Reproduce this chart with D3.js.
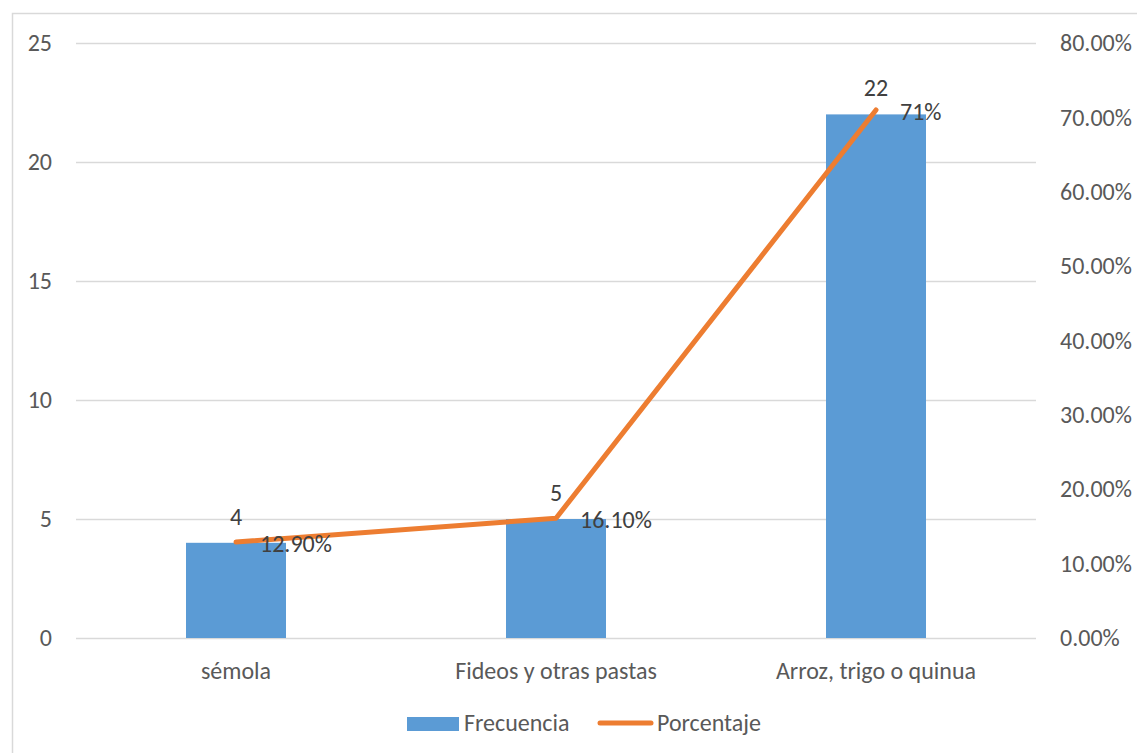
<!DOCTYPE html>
<html>
<head>
<meta charset="utf-8">
<script src="https://cdn.jsdelivr.net/npm/d3@7"></script>
<style>
  html, body { margin: 0; padding: 0; background: #fff; }
  svg { display: block; }
  text { font-family: Calibri, Carlito, "Liberation Sans", Arial, sans-serif; }
</style>
</head>
<body>
<svg id="chart" width="1137" height="753"></svg>
<script>
const categories = ["sémola", "Fideos y otras pastas", "Arroz, trigo o quinua"];
const frecuencia = [4, 5, 22];
const porcentaje = [0.129, 0.161, 0.71];
const porcentajeLabels = ["12.90%", "16.10%", "71%"];
const leftTicks = [0, 5, 10, 15, 20, 25];
const rightTicks = [0, 0.1, 0.2, 0.3, 0.4, 0.5, 0.6, 0.7, 0.8];
const seriesNames = ["Frecuencia", "Porcentaje"];

const W = 1137, H = 753;
const plot = { left: 76, right: 1036, top: 43, bottom: 638 };
const fontSize = 24;
const FF = 'Calibri, Carlito, "Liberation Sans", Arial, sans-serif';
const barColor = "#5B9BD5", lineColor = "#ED7D31";
const axisColor = "#595959", labelColor = "#404040", gridColor = "#D9D9D9";

const svg = d3.select("#chart");

svg.append("rect")
  .attr("x", 12.5).attr("y", 13.5)
  .attr("width", 1200).attr("height", 800)
  .attr("fill", "#fff").attr("stroke", gridColor).attr("stroke-width", 1.5);

const x = d3.scaleBand().domain(categories)
  .range([plot.left, plot.right])
  .paddingInner(0.6875).paddingOuter(0.34375);
const yL = d3.scaleLinear().domain([0, 25]).range([plot.bottom, plot.top]);
const yR = d3.scaleLinear().domain([0, 0.8]).range([plot.bottom, plot.top]);

// gridlines
const grid = svg.append("g")
  .attr("transform", `translate(${plot.left},0)`)
  .call(d3.axisLeft(yL).tickValues(leftTicks).tickSize(-(plot.right - plot.left)).tickFormat(""));
grid.select(".domain").remove();
grid.selectAll("line").attr("stroke", gridColor).attr("stroke-width", 1.5);

// left axis labels
const gL = svg.append("g")
  .attr("transform", `translate(${plot.left},0)`)
  .call(d3.axisLeft(yL).tickValues(leftTicks).tickSize(0).tickPadding(24).tickFormat(d3.format("d")));
gL.select(".domain").remove();
gL.selectAll("text").attr("fill", axisColor).style("font-size", fontSize + "px").style("font-family", FF);

// right axis labels
const gR = svg.append("g")
  .attr("transform", `translate(${plot.right},0)`)
  .call(d3.axisRight(yR).tickValues(rightTicks).tickSize(0).tickPadding(24).tickFormat(d3.format(".2%")));
gR.select(".domain").remove();
gR.selectAll("text").attr("fill", axisColor).style("font-size", fontSize + "px").style("font-family", FF);

// bottom axis labels
const gB = svg.append("g")
  .attr("transform", `translate(0,${plot.bottom})`)
  .call(d3.axisBottom(x).tickSize(0).tickPadding(24));
gB.select(".domain").remove();
gB.selectAll("text").attr("fill", axisColor).style("font-size", fontSize + "px").style("font-family", FF);

// bars
svg.append("g").selectAll("rect")
  .data(categories)
  .join("rect")
  .attr("x", d => x(d))
  .attr("y", (d, i) => yL(frecuencia[i]))
  .attr("width", x.bandwidth())
  .attr("height", (d, i) => yL(0) - yL(frecuencia[i]))
  .attr("fill", barColor);

// line
const cx = d => x(d) + x.bandwidth() / 2;
const line = d3.line()
  .x((d, i) => cx(categories[i]))
  .y(d => yR(d));
svg.append("path")
  .datum(porcentaje)
  .attr("d", line)
  .attr("fill", "none")
  .attr("stroke", lineColor)
  .attr("stroke-width", 5)
  .attr("stroke-linecap", "round")
  .attr("stroke-linejoin", "round");

// bar labels
svg.append("g").selectAll("text")
  .data(categories)
  .join("text")
  .attr("x", d => cx(d))
  .attr("y", (d, i) => yL(frecuencia[i]) - 18)
  .attr("text-anchor", "middle")
  .attr("fill", labelColor)
  .style("font-size", fontSize + "px")
  .text((d, i) => frecuencia[i]);

// line labels
svg.append("g").selectAll("text")
  .data(categories)
  .join("text")
  .attr("x", d => cx(d) + 24)
  .attr("y", (d, i) => yR(porcentaje[i]) + 10)
  .attr("text-anchor", "start")
  .attr("fill", labelColor)
  .style("font-size", fontSize + "px")
  .text((d, i) => porcentajeLabels[i]);

// legend
const lg = svg.append("g");
lg.append("rect").attr("x", 407).attr("y", 717).attr("width", 52).attr("height", 14).attr("fill", barColor);
lg.append("text").attr("x", 464).attr("y", 731).attr("fill", axisColor)
  .style("font-size", fontSize + "px").text(seriesNames[0]);
lg.append("line").attr("x1", 600).attr("x2", 651).attr("y1", 723).attr("y2", 723)
  .attr("stroke", lineColor).attr("stroke-width", 5).attr("stroke-linecap", "round");
lg.append("text").attr("x", 657).attr("y", 731).attr("fill", axisColor)
  .style("font-size", fontSize + "px").text(seriesNames[1]);
</script>
</body>
</html>
